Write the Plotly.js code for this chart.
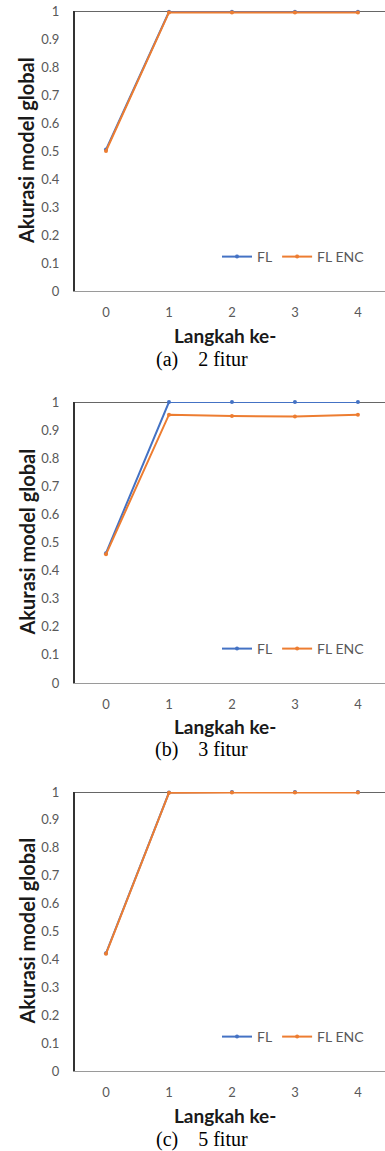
<!DOCTYPE html>
<html>
<head>
<meta charset="utf-8">
<script src="https://cdn.plot.ly/plotly-3.0.1.min.js"></script>
<style>html,body{margin:0;padding:0;background:#fff;}#chart{width:385px;height:1151px;}</style>
</head>
<body>
<div id="chart"></div>
<script>
// ---- data ----
var steps = [0, 1, 2, 3, 4];
var yTickVals = [0, 0.1, 0.2, 0.3, 0.4, 0.5, 0.6, 0.7, 0.8, 0.9, 1];
var yTickText = ["0", "0.1", "0.2", "0.3", "0.4", "0.5", "0.6", "0.7", "0.8", "0.9", "1"];
var seriesNames = ["FL", "FL ENC"];
var captions = ["(a)\u00a0\u00a0\u00a0\u00a02 fitur", "(b)\u00a0\u00a0\u00a0\u00a03 fitur", "(c)\u00a0\u00a0\u00a0\u00a05 fitur"];
var yTitle = "Akurasi model global";
var xTitle = "Langkah ke-";

var fl2  = [0.505, 0.997, 0.997, 0.997, 0.997];
var enc2 = [0.500, 0.995, 0.995, 0.995, 0.995];
var fl3  = [0.462, 1.000, 1.000, 1.000, 1.000];
var enc3 = [0.458, 0.955, 0.950, 0.948, 0.955];
var fl5  = [0.422, 0.998, 1.000, 1.000, 1.000];
var enc5 = [0.420, 0.997, 0.998, 0.998, 0.998];

var panels = [[fl2, enc2], [fl3, enc3], [fl5, enc5]];
var colors = ["#4472C4", "#ED7D31"];

// ---- layout geometry (pixels) ----
var W = 385, H = 1151;
var plotTopPx = [11, 402, 792];
var plotBotPx = [291, 683, 1071];
var xTitlePx = [335, 727, 1115];
var capPx = [360, 750, 1139];
var legPx = [257, 649, 1037];
function py(p) { return (H - p) / H; }

var traces = [];
var layout = {
  width: W, height: H,
  margin: {l: 0, r: 0, t: 0, b: 0},
  paper_bgcolor: "#fff", plot_bgcolor: "#fff",
  font: {family: "Lato, 'Open Sans', sans-serif", color: "#595959", size: 13},
  showlegend: true,
  shapes: [], annotations: []
};

for (var i = 0; i < 3; i++) {
  var sfx = i === 0 ? "" : String(i + 1);
  var legName = "legend" + sfx;
  for (var s = 0; s < 2; s++) {
    traces.push({
      x: steps, y: panels[i][s], type: "scatter", mode: "lines+markers",
      name: seriesNames[s],
      xaxis: "x" + sfx, yaxis: "y" + sfx,
      legend: legName,
      line: {color: colors[s], width: 2},
      marker: {color: colors[s], size: 4},
      cliponaxis: false,
      hoverinfo: "skip"
    });
  }
  layout["xaxis" + sfx] = {
    domain: [74.5 / W, 1], range: [-0.5, 4.43],
    anchor: "y" + sfx,
    tickmode: "array", tickvals: steps, ticktext: steps.map(String),
    showgrid: false, zeroline: false,
    showline: true, linecolor: "#9a9a9a", linewidth: 1,
    ticks: "", ticklabelstandoff: 9,
    tickfont: {size: 13, color: "#595959"},
    fixedrange: true
  };
  layout["yaxis" + sfx] = {
    domain: [py(plotBotPx[i]), py(plotTopPx[i])], range: [0, 1],
    anchor: "x" + sfx,
    tickmode: "array", tickvals: yTickVals, ticktext: yTickText,
    showgrid: false, zeroline: false,
    showline: true, linecolor: "#333", linewidth: 1.5,
    ticks: "", ticklabelstandoff: 11,
    tickfont: {size: 13, color: "#595959"},
    fixedrange: true
  };
  layout.shapes.push({
    type: "line", xref: "x" + sfx + " domain", yref: "y" + sfx,
    x0: 0, x1: 1, y0: 1, y1: 1, layer: "below",
    line: {color: "#333", width: 1.5}
  });
  layout[legName] = {
    orientation: "h", x: 370 / W, xanchor: "right",
    y: py(legPx[i]), yanchor: "middle",
    bgcolor: "rgba(0,0,0,0)", borderwidth: 0,
    font: {size: 14, color: "#595959"},
    itemwidth: 30, tracegroupgap: 0
  };
  layout.annotations.push({
    text: "<b>" + yTitle + "</b>", xref: "paper", yref: "paper",
    x: 26 / W, y: py((plotTopPx[i] + plotBotPx[i]) / 2), textangle: -90,
    showarrow: false, xanchor: "center", yanchor: "middle",
    font: {size: 20, color: "#1a1a1a", family: "Lato, 'Open Sans', sans-serif"}
  });
  layout.annotations.push({
    text: "<b>" + xTitle + "</b>", xref: "paper", yref: "paper",
    x: 225 / W, y: py(xTitlePx[i]),
    showarrow: false, xanchor: "center", yanchor: "middle",
    font: {size: 19, color: "#1a1a1a", family: "Lato, 'Open Sans', sans-serif"}
  });
  layout.annotations.push({
    text: captions[i], xref: "paper", yref: "paper",
    x: 202 / W, y: py(capPx[i]), borderpad: 0,
    showarrow: false, xanchor: "center", yanchor: "middle",
    font: {size: 20, color: "#000", family: "'Liberation Serif', 'Times New Roman', serif"}
  });
}

Plotly.newPlot("chart", traces, layout, {displayModeBar: false, staticPlot: true});
</script>
</body>
</html>
